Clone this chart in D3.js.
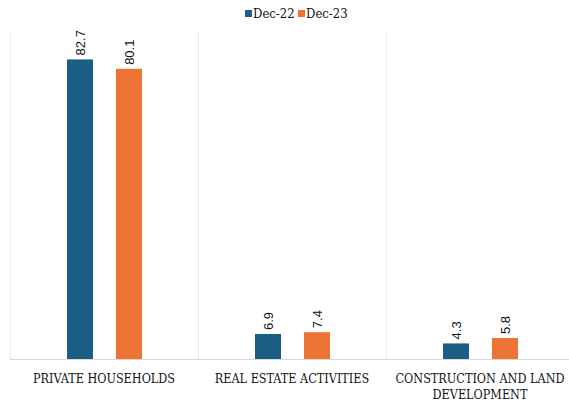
<!DOCTYPE html>
<html>
<head>
<meta charset="utf-8">
<script src="https://cdn.jsdelivr.net/npm/d3@7"></script>
<style>
  html, body { margin: 0; padding: 0; background: #fff; }
  svg { display: block; }
</style>
</head>
<body>
<svg id="chart" width="569" height="402"></svg>
<script>
// Categories (label lines) and the two series
const categories = [
  ["PRIVATE HOUSEHOLDS"],
  ["REAL ESTATE ACTIVITIES"],
  ["CONSTRUCTION AND LAND", "DEVELOPMENT"]
];
const seriesNames = ["Dec-22", "Dec-23"];
const dec22 = [82.7, 6.9, 4.3];
const dec23 = [80.1, 7.4, 5.8];
const colors = ["#1b5e84", "#ec7434"];

const svg = d3.select("#chart");
const margin = { top: 33, left: 10, bottom: 43 };
const height = 402;
const plotBottom = height - margin.bottom;
const bandWidth = 188;

const x = d3.scaleBand()
  .domain(d3.range(categories.length))
  .range([margin.left, margin.left + bandWidth * categories.length])
  .paddingInner(0).paddingOuter(0);

const y = d3.scaleLinear().domain([0, 90]).range([plotBottom, margin.top]);

// Position of the two bars inside each category
const sub = d3.scaleBand().domain(seriesNames).range([57, 132]).paddingInner(23 / 49).paddingOuter(0);

// Category separator lines
svg.append("g").selectAll("line")
  .data(d3.range(categories.length + 1))
  .join("line")
  .attr("x1", i => margin.left + i * bandWidth + 0.5)
  .attr("x2", i => margin.left + i * bandWidth + 0.5)
  .attr("y1", margin.top)
  .attr("y2", plotBottom)
  .attr("stroke", "#ebebeb")
  .attr("stroke-width", 1);

// Baseline
svg.append("line")
  .attr("x1", margin.left).attr("x2", 569)
  .attr("y1", plotBottom + 0.5).attr("y2", plotBottom + 0.5)
  .attr("stroke", "#d9d9d9");

const series = [dec22, dec23];
series.forEach((vals, s) => {
  const g = svg.append("g");
  g.selectAll("rect")
    .data(vals)
    .join("rect")
    .attr("x", (d, i) => x(i) + sub(seriesNames[s]))
    .attr("width", sub.bandwidth())
    .attr("y", d => y(d))
    .attr("height", d => plotBottom - y(d))
    .attr("fill", colors[s]);

  g.selectAll("text")
    .data(vals)
    .join("text")
    .attr("transform", (d, i) => {
      const cx = x(i) + sub(seriesNames[s]) + sub.bandwidth() / 2 + 4.5;
      return `translate(${cx},${y(d) - 4}) rotate(-90)`;
    })
    .attr("font-family", "Liberation Sans, Arial, sans-serif")
    .attr("font-size", 13)
    .attr("fill", "#111")
    .text(d => d.toFixed(1));
});

// Category labels
const labels = svg.append("g")
  .attr("font-family", "DejaVu Serif Condensed, DejaVu Serif, serif")
  .attr("font-size", 12.5)
  .attr("fill", "#111")
  .attr("text-anchor", "middle");
categories.forEach((lines, i) => {
  const t = labels.append("text")
    .attr("x", x(i) + x.bandwidth() / 2)
    .attr("y", plotBottom + 24);
  lines.forEach((ln, k) => {
    t.append("tspan")
      .attr("x", x(i) + x.bandwidth() / 2)
      .attr("dy", k === 0 ? 0 : 16)
      .text(ln);
  });
});

// Legend
const legend = svg.append("g")
  .attr("font-family", "DejaVu Serif Condensed, DejaVu Serif, serif")
  .attr("font-size", 13)
  .attr("fill", "#111");
const legendX = [245, 298];
seriesNames.forEach((name, s) => {
  legend.append("rect")
    .attr("x", legendX[s]).attr("y", 10)
    .attr("width", 7).attr("height", 7)
    .attr("fill", colors[s]);
  legend.append("text")
    .attr("x", legendX[s] + 8).attr("y", 18)
    .text(name);
});
</script>
</body>
</html>
